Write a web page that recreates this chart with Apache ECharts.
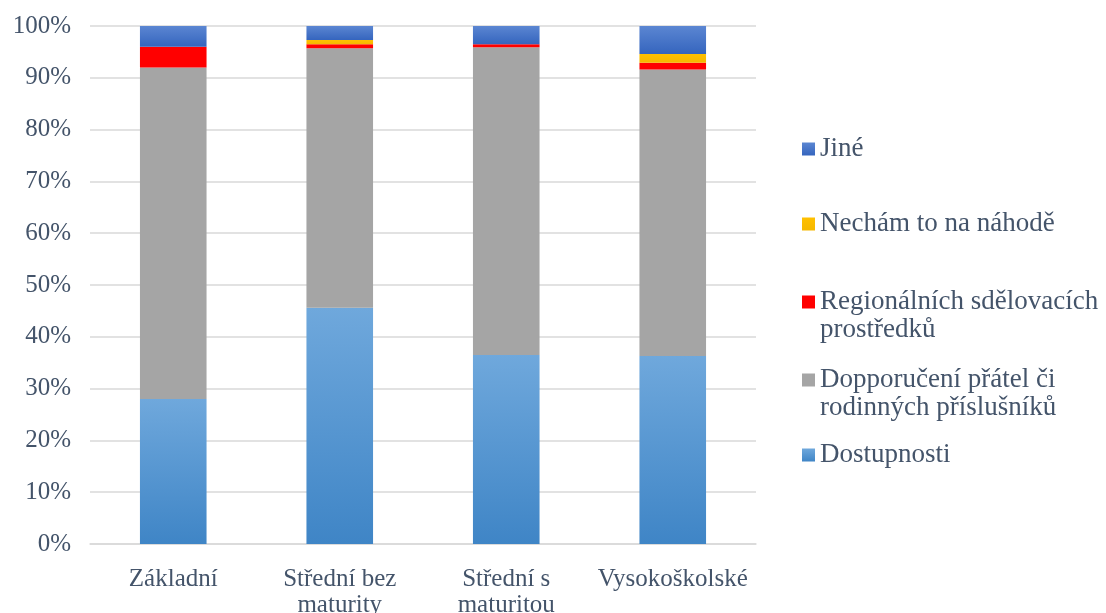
<!DOCTYPE html>
<html>
<head>
<meta charset="utf-8">
<script src="https://cdn.jsdelivr.net/npm/echarts@6/dist/echarts.min.js"></script>
<style>
  html, body { margin: 0; padding: 0; background: #fff; }
  #chart { width: 1106px; height: 613px; }
</style>
</head>
<body>
<div id="chart"></div>
<script>
// Education level categories (x axis)
const categories = ['Základní', 'Střední bez\nmaturity', 'Střední s\nmaturitou', 'Vysokoškolské'];

// Share of answers per education level, in percent (stacked to 100 %)
const dostupnosti  = [28.0, 45.6, 36.5, 36.3];
const doporuceni   = [64.0, 50.1, 59.4, 55.3];
const regionalnich = [4.0, 0.8, 0.6, 1.3];
const nahoda       = [0.0, 0.8, 0.0, 1.7];
const jine         = [4.0, 2.7, 3.5, 5.4];

// Series names as shown in the legend
const names = {
  dost: 'Dostupnosti',
  dopp: 'Dopporučení přátel či\nrodinných příslušníků',
  reg:  'Regionálních sdělovacích\nprostředků',
  nah:  'Nechám to na náhodě',
  jine: 'Jiné'
};

const FONT = '"Liberation Serif", "DejaVu Serif", serif';
const TEXT = '#44546a';
const GRID = '#d9d9d9';

function vGrad(top, bottom) {
  return new echarts.graphic.LinearGradient(0, 0, 0, 1, [
    { offset: 0, color: top },
    { offset: 1, color: bottom }
  ]);
}

function bar(name, data, color) {
  return {
    name: name,
    type: 'bar',
    stack: 'total',
    barWidth: '40%',
    data: data,
    itemStyle: { color: color },
    emphasis: { disabled: true }
  };
}

// One legend block per series so each entry sits at its own height;
// two-line names get a leading blank line so the swatch lines up with the first line.
function legendAt(name, top) {
  const twoLine = name.indexOf('\n') >= 0;
  return {
    data: [name],
    left: 802,
    top: top,
    padding: 0,
    orient: 'vertical',
    itemWidth: 13,
    itemHeight: 13,
    icon: 'rect',
    selectedMode: false,
    formatter: n => (twoLine ? '\n' + n : n),
    textStyle: { fontFamily: FONT, fontSize: 27, color: TEXT, lineHeight: 28 }
  };
}

const chart = echarts.init(document.getElementById('chart'), null, { renderer: 'canvas' });

chart.setOption({
  animation: false,
  backgroundColor: '#ffffff',
  grid: {
    left: 90, right: 350, top: 26, bottom: 69,
    containLabel: false,
    outerBoundsMode: 'none'
  },
  legend: [
    legendAt(names.jine, 135),
    legendAt(names.nah, 210),
    legendAt(names.reg, 260),
    legendAt(names.dopp, 338),
    legendAt(names.dost, 441)
  ],
  xAxis: {
    type: 'category',
    data: categories,
    axisLine: { show: true, lineStyle: { color: GRID, width: 1.5 } },
    axisTick: { show: false },
    axisLabel: {
      fontFamily: FONT, fontSize: 25, color: TEXT,
      lineHeight: 26, margin: 22, interval: 0
    }
  },
  yAxis: {
    type: 'value',
    min: 0,
    max: 100,
    interval: 10,
    axisLine: { show: false },
    axisTick: { show: false },
    splitLine: { lineStyle: { color: GRID, width: 1.5 } },
    axisLabel: {
      fontFamily: FONT, fontSize: 25, color: TEXT, margin: 19,
      formatter: v => v + '%'
    }
  },
  series: [
    bar(names.dost, dostupnosti, vGrad('#6fa8dc', '#3f85c6')),
    bar(names.dopp, doporuceni, '#a5a5a5'),
    bar(names.reg, regionalnich, '#ff0000'),
    bar(names.nah, nahoda, vGrad('#ffc000', '#f5b800')),
    bar(names.jine, jine, vGrad('#5b86d2', '#3565be'))
  ]
});
</script>
</body>
</html>
